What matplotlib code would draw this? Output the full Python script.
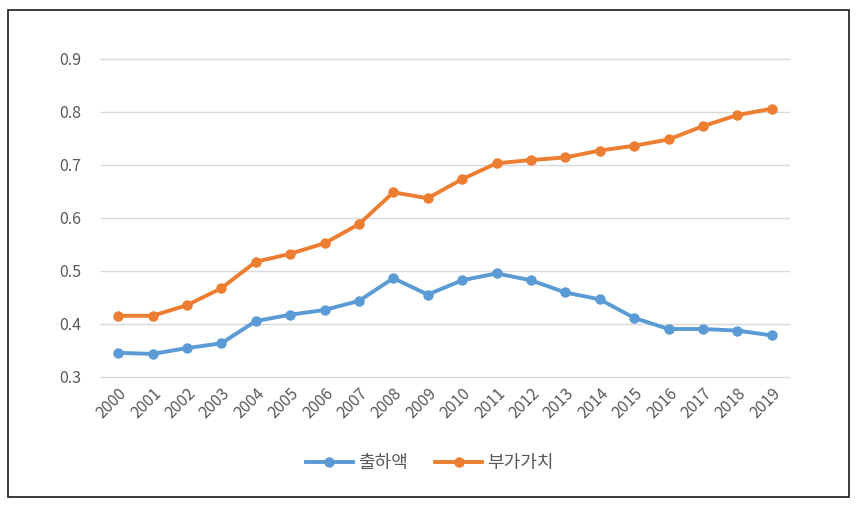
import matplotlib.pyplot as plt
from matplotlib.patches import Rectangle

plt.rcParams['font.family'] = ['Noto Sans CJK KR', 'DejaVu Sans']

years = [str(y) for y in range(2000, 2020)]
shipments = [0.345, 0.343, 0.354, 0.363, 0.405, 0.417, 0.426, 0.443, 0.486, 0.455,
             0.482, 0.495, 0.482, 0.459, 0.446, 0.411, 0.390, 0.390, 0.387, 0.378]
value_added = [0.415, 0.415, 0.435, 0.467, 0.517, 0.532, 0.552, 0.588, 0.648, 0.637,
               0.673, 0.703, 0.709, 0.714, 0.727, 0.736, 0.748, 0.773, 0.794, 0.806]
series_names = ['출하액', '부가가치']
yticks = [0.3, 0.4, 0.5, 0.6, 0.7, 0.8, 0.9]

fig = plt.figure(figsize=(8.6, 5.08), dpi=100)
ax = fig.add_axes([0.1174, 0.2585, 0.8, 0.6255])

x = range(len(years))
ax.plot(x, shipments, color='#5B9BD5', lw=2.8, marker='o', ms=6.5, label=series_names[0])
ax.plot(x, value_added, color='#ED7D31', lw=2.8, marker='o', ms=6.5, label=series_names[1])

ax.set_xlim(-0.5, len(years) - 0.5)
ax.set_ylim(0.3, 0.9)
ax.set_yticks(yticks)
ax.set_yticklabels([f'{v:.1f}' for v in yticks])
ax.set_xticks(list(x))
ax.set_xticklabels(years, rotation=45, ha='right', rotation_mode='anchor')
ax.grid(axis='y', color='#d9d9d9', lw=1)
for gl in ax.get_ygridlines():
    gl.set_clip_on(False)
ax.set_axisbelow(True)
for s in ax.spines.values():
    s.set_visible(False)
ax.tick_params(length=0, colors='#595959', labelsize=11.5)
ax.tick_params(axis='y', pad=14)
ax.tick_params(axis='x', pad=6)

fig.legend(loc='center', bbox_to_anchor=(0.5, 0.088), ncol=2, frameon=False,
           fontsize=13, handlelength=2.6, columnspacing=1.5, handletextpad=0.3,
           labelcolor='#595959')

fig.patches.append(Rectangle((8 / 860, 1 - 497 / 508), 841 / 860, 487 / 508,
                             transform=fig.transFigure, fill=False,
                             edgecolor='#1a1a1a', lw=1.2))

fig.savefig('out.png', dpi=100)
